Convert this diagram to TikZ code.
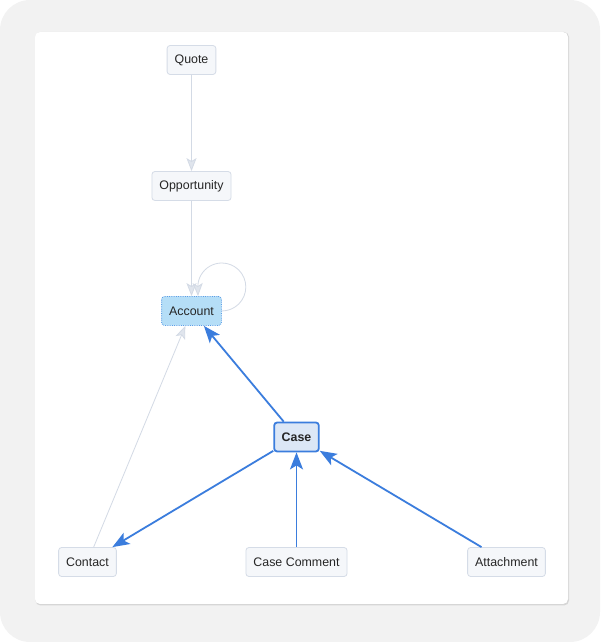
\documentclass[tikz,border=0pt]{standalone}
\usepackage{fontspec}
\setmainfont{Liberation Sans}
\usetikzlibrary{arrows.meta}
\definecolor{pagegray}{HTML}{F2F2F2}
\definecolor{shadowgray}{HTML}{D6D6D6}
\definecolor{boxfill}{HTML}{F5F7FA}
\definecolor{boxline}{HTML}{D5DCE7}
\definecolor{faintedge}{HTML}{D3DAE5}
\definecolor{linkblue}{HTML}{3B7DDD}
\definecolor{accfill}{HTML}{B5DEF7}
\definecolor{accline}{HTML}{5C9FE6}
\definecolor{casefill}{HTML}{DCE7F6}
\tikzset{
  entity/.style={draw=boxline,fill=boxfill,rounded corners=3pt,line width=0.8pt,
    minimum height=29pt,inner xsep=7.5pt,font=\fontsize{12.4}{14}\selectfont,text=black!85},
  rootbox/.style={entity,draw=accline,fill=accfill,densely dotted},
  focusbox/.style={entity,draw=linkblue,fill=casefill,line width=1.8pt,font=\fontsize{12.4}{14}\selectfont\bfseries},
  faint/.style={draw=faintedge,line width=0.8pt,-{Stealth[length=13pt,width=10pt,inset=3pt,fill=faintedge!70]}},
  strong/.style={draw=linkblue,line width=1.8pt,-{Stealth[length=17pt,width=13pt,inset=4pt]}},
}
\begin{document}
\begin{tikzpicture}[x=1pt,y=1pt]
  \useasboundingbox (0,0) rectangle (600,642);
  \fill[pagegray,rounded corners=30pt] (0,0) rectangle (600,642);
  \fill[shadowgray,rounded corners=5pt] (35.5,36.5) rectangle (569,610);
  \fill[white,rounded corners=5pt] (35,38) rectangle (568,610);

  \node[entity] (quote) at (191.5,582) {Quote};
  \node[entity] (opp) at (191.5,456) {Opportunity};
  \node[rootbox] (account) at (191.5,331) {Account};
  \node[focusbox] (case) at (296.5,205) {Case};
  \node[entity] (contact) at (87.5,80) {Contact};
  \node[entity] (comment) at (296.5,80) {Case Comment};
  \node[entity] (attach) at (506.5,80) {Attachment};

  \draw[faint] (quote) -- (opp);
  \draw[faint] (opp) -- (account);
  \draw[faint] (account.east) arc[start angle=-90,end angle=182,radius=24] -- ([xshift=6.5pt]account.north);
  \draw[faint] (contact) -- (account);

  \draw[strong] (case) -- (account);
  \draw[strong] (case) -- (contact);
  \draw[strong] (comment) -- (case);
  \draw[strong] (attach) -- (case);
\end{tikzpicture}
\end{document}
